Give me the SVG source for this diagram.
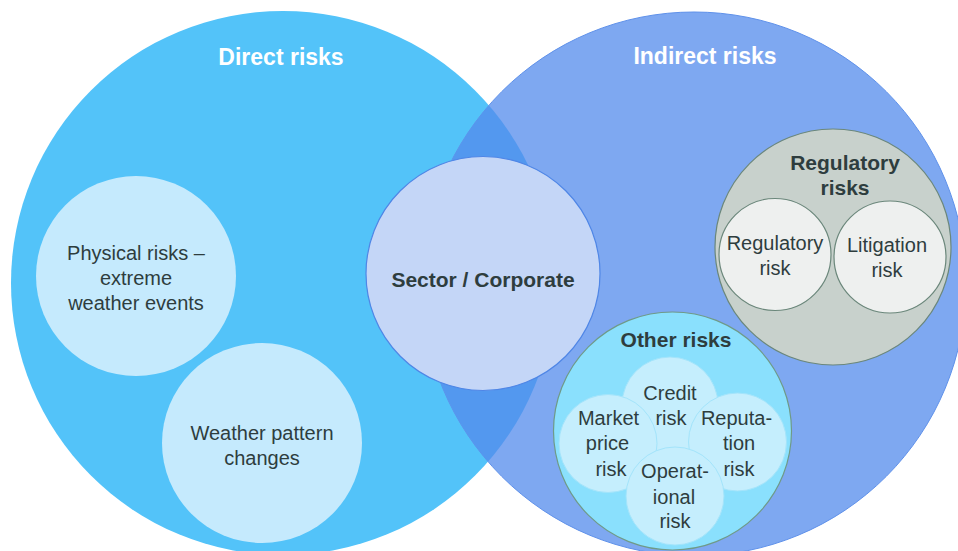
<svg xmlns="http://www.w3.org/2000/svg" width="958" height="551" viewBox="0 0 958 551">
<style>
  text { font-family: "Liberation Sans", Arial, sans-serif; fill: #2e3d3e; text-anchor: middle; }
  .title { font-weight: bold; font-size: 23px; fill: #ffffff; }
  .bold { font-weight: bold; font-size: 21px; }
  .lbl { font-size: 20px; }
  .sub { fill: #c5eafd; stroke: none; }
  .other { fill: #c5eefd; stroke: #a3e4fb; stroke-width: 1; }
  .reg { fill: #eef0ef; stroke: #6b877b; stroke-width: 1.2; }
</style>
<defs>
  <clipPath id="leftClip"><circle cx="283" cy="283" r="272"/></clipPath>
</defs>
<rect width="958" height="551" fill="#ffffff"/>
<g id="direct-risks">
  <circle cx="283" cy="283" r="272" fill="#53c3f9"/>
</g>
<g id="indirect-risks">
  <circle cx="694" cy="284" r="272" fill="#7ea8f1" stroke="#5f91ea" stroke-width="1"/>
  <circle cx="694" cy="284" r="272" fill="#5398ef" clip-path="url(#leftClip)"/>
</g>
<text class="title" x="281" y="65">Direct risks</text>
<text class="title" x="705" y="64">Indirect risks</text>
<g id="physical-risks">
  <circle class="sub" cx="136" cy="276" r="100"/>
  <text class="lbl" x="136" y="260">Physical risks –</text>
  <text class="lbl" x="136" y="285">extreme</text>
  <text class="lbl" x="136" y="310">weather events</text>
</g>
<g id="weather-pattern">
  <circle class="sub" cx="262" cy="443" r="100"/>
  <text class="lbl" x="262" y="440">Weather pattern</text>
  <text class="lbl" x="262" y="465">changes</text>
</g>
<g id="sector-corporate">
  <circle cx="483" cy="273.5" r="117" fill="#c4d6f7" stroke="#4f86e6" stroke-width="1.2"/>
  <text class="bold" x="483" y="287">Sector / Corporate</text>
</g>
<g id="regulatory-risks">
  <circle cx="833" cy="247" r="118" fill="#c8d1cc" stroke="#6b877b" stroke-width="1.2"/>
  <text class="bold" x="845" y="170">Regulatory</text>
  <text class="bold" x="845" y="195">risks</text>
  <g id="regulatory-risk">
    <circle class="reg" cx="775" cy="254.5" r="56"/>
    <text class="lbl" x="775" y="250">Regulatory</text>
    <text class="lbl" x="775" y="275">risk</text>
  </g>
  <g id="litigation-risk">
    <circle class="reg" cx="890" cy="257" r="56"/>
    <text class="lbl" x="887" y="252">Litigation</text>
    <text class="lbl" x="887" y="277">risk</text>
  </g>
</g>
<g id="other-risks">
  <circle cx="672.5" cy="431" r="119" fill="#8ae0fd" stroke="#6f9a88" stroke-width="1.2"/>
  <text class="bold" x="676" y="347">Other risks</text>
  <g id="credit-risk">
    <circle class="other" cx="670" cy="405" r="48"/>
  </g>
  <g id="market-price-risk">
    <circle class="other" cx="608" cy="443.5" r="49"/>
  </g>
  <g id="reputation-risk">
    <circle class="other" cx="737.5" cy="442" r="49"/>
  </g>
  <g id="operational-risk">
    <circle class="other" cx="675" cy="496" r="49"/>
  </g>
  <text class="lbl" x="670" y="400">Credit</text>
  <text class="lbl" x="671" y="425">risk</text>
  <text class="lbl" x="608.5" y="425">Market</text>
  <text class="lbl" x="607.5" y="450">price</text>
  <text class="lbl" x="611" y="476">risk</text>
  <text class="lbl" x="736.5" y="425">Reputa-</text>
  <text class="lbl" x="739" y="450">tion</text>
  <text class="lbl" x="739" y="476">risk</text>
  <text class="lbl" x="675" y="478">Operat-</text>
  <text class="lbl" x="674" y="504">ional</text>
  <text class="lbl" x="675" y="528">risk</text>
</g>
<g id="connectors"/>
</svg>
